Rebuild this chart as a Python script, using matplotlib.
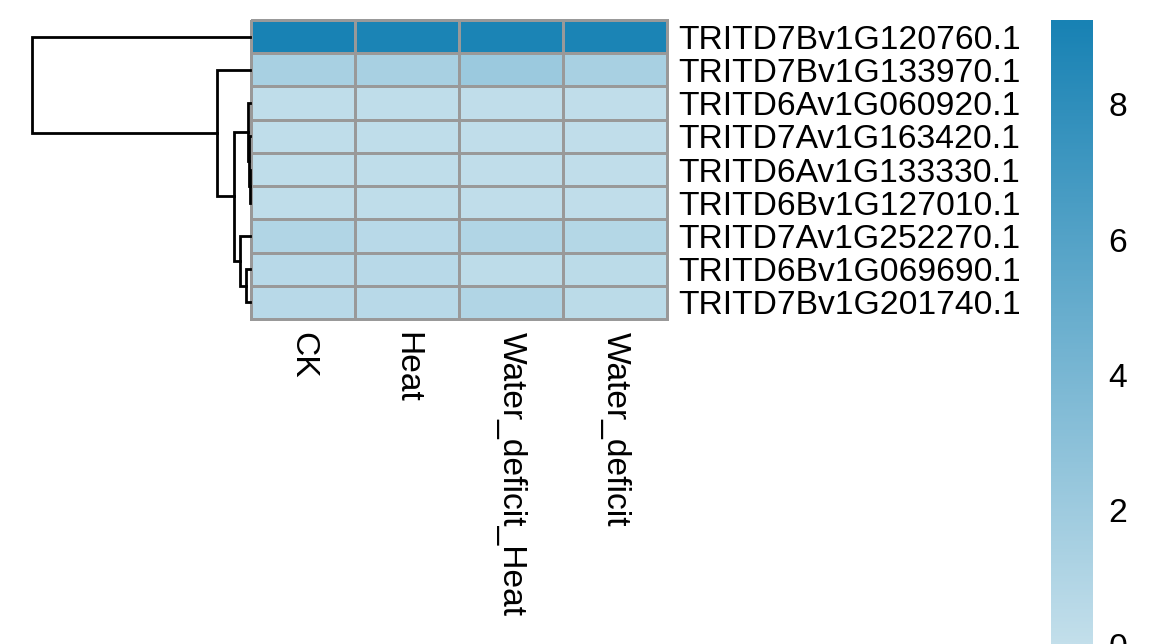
import numpy as np
import matplotlib
matplotlib.use("Agg")
import matplotlib.pyplot as plt
from matplotlib.colors import LinearSegmentedColormap

genes = ["TRITD7Bv1G120760.1", "TRITD7Bv1G133970.1", "TRITD6Av1G060920.1",
         "TRITD7Av1G163420.1", "TRITD6Av1G133330.1", "TRITD6Bv1G127010.1",
         "TRITD7Av1G252270.1", "TRITD6Bv1G069690.1", "TRITD7Bv1G201740.1"]
conditions = ["CK", "Heat", "Water_deficit_Heat", "Water_deficit"]

CK = [9.25, 1.45, 0.25, 0.25, 0.25, 0.25, 1.0, 0.6, 0.6]
Heat = [9.05, 1.45, 0.25, 0.25, 0.25, 0.25, 0.6, 0.6, 0.6]
WD_Heat = [9.05, 2.15, 0.2, 0.2, 0.2, 0.2, 1.0, 0.35, 1.0]
WD = [9.05, 1.5, 0.2, 0.2, 0.2, 0.2, 0.85, 0.45, 0.45]

# row clustering: (left, right, height); ids >= 9 are earlier merges
merges = [(4, 5, 0.02), (3, 9, 0.05), (2, 10, 0.15), (7, 8, 0.3),
          (6, 12, 0.78), (11, 13, 1.25), (1, 14, 2.6), (0, 15, 17.0)]

cbar_ticks = [0, 2, 4, 6, 8]

mat = np.array([CK, Heat, WD_Heat, WD]).T
vmin, vmax = 0, 9.25
cmap = LinearSegmentedColormap.from_list("blu", ["#c3dfeb", "#1882b4"])

plt.rcParams['font.family'] = ['Liberation Sans', 'DejaVu Sans']
W, H = 1170, 644
fig = plt.figure(figsize=(W / 100, H / 100), dpi=100)

def px_axes(x0, y0, x1, y1):
    return fig.add_axes([x0 / W, 1 - y1 / H, (x1 - x0) / W, (y1 - y0) / H])

fs = 24.2

# heatmap
ax = px_axes(251, 20, 667, 319)
nr, nc = mat.shape
mesh = ax.pcolormesh(np.arange(nc + 1), np.arange(nr + 1), mat, cmap=cmap,
                     vmin=vmin, vmax=vmax, edgecolor="#999999", linewidth=2)
mesh.set_clip_on(False)
ax.set_xlim(0, nc)
ax.set_ylim(nr, 0)
ax.set_xticks(np.arange(nc) + 0.5)
ax.set_xticklabels(conditions, rotation=-90, fontsize=fs, va="top", ha="center")
ax.set_yticks(np.arange(nr) + 0.5)
ax.set_yticklabels(genes, fontsize=fs)
ax.yaxis.tick_right()
ax.tick_params(axis="x", length=0, pad=9)
ax.tick_params(axis="y", length=0, pad=8)
for s in ax.spines.values():
    s.set_visible(False)

# dendrogram
dax = px_axes(32, 20, 250, 319)
pos = {i: i + 0.5 for i in range(nr)}
hgt = {i: 0.0 for i in range(nr)}
for k, (a, b, h) in enumerate(merges):
    nid = nr + k
    ya, yb = pos[a], pos[b]
    dax.plot([hgt[a], h, h, hgt[b]], [ya, ya, yb, yb], color="black", lw=2,
             solid_joinstyle="miter", clip_on=False)
    pos[nid] = (ya + yb) / 2
    hgt[nid] = h
dax.set_xlim(merges[-1][2], 0)
dax.set_ylim(nr, 0)
dax.axis("off")

# colorbar
cax = px_axes(1051, 20, 1093, 645)
grad = np.linspace(vmin, vmax, 300).reshape(-1, 1)
cax.imshow(grad, aspect="auto", cmap=cmap, origin="lower",
           extent=[0, 1, vmin, vmax], vmin=vmin, vmax=vmax)
cax.set_xticks([])
cax.yaxis.tick_right()
cax.set_yticks(cbar_ticks)
cax.tick_params(length=0, labelsize=fs, pad=11)
for s in cax.spines.values():
    s.set_visible(False)

fig.savefig("out.png", dpi=100)
